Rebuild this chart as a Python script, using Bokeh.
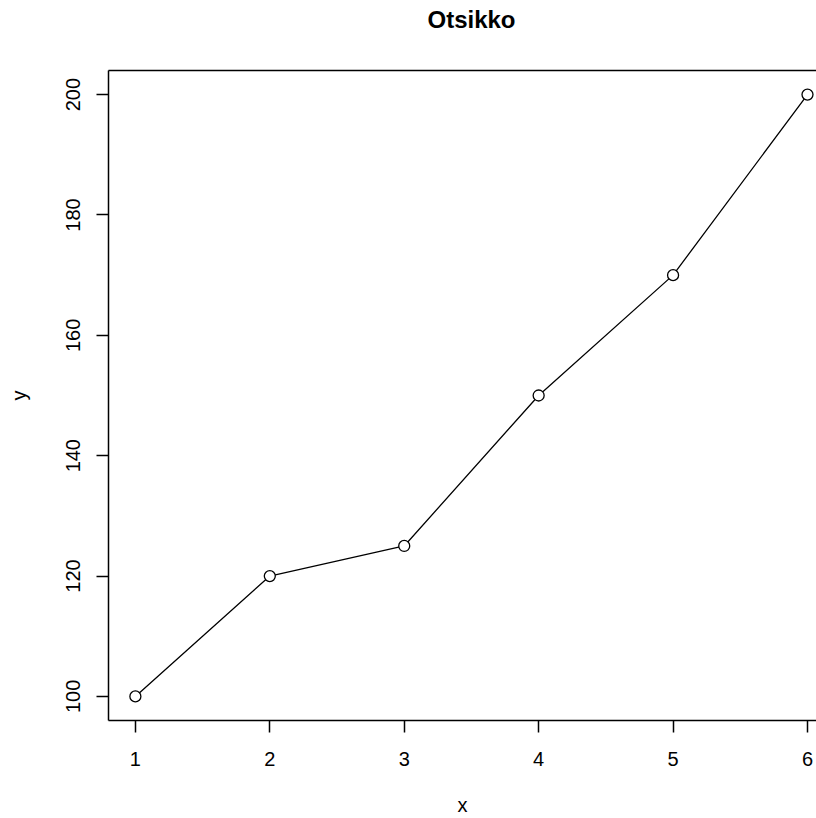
from bokeh.plotting import figure
from bokeh.models import Range1d, FixedTicker, Title, LinearAxis
from bokeh.embed import file_html
from bokeh.resources import INLINE

x_vals = [1, 2, 3, 4, 5, 6]
y_vals = [100, 120, 125, 150, 170, 200]
x_ticks = [1, 2, 3, 4, 5, 6]
y_ticks = [100, 120, 140, 160, 180, 200]
title_text = "Otsikko"
x_label = "x"
y_label = "y"

FONT = "Liberation Sans"

p = figure(width=816, height=818, output_backend="svg", toolbar_location=None,
           x_range=Range1d(0.8, 6.067), y_range=Range1d(96, 204),
           min_border_left=108, min_border_right=0, min_border_top=70, min_border_bottom=98)
p.background_fill_color = "white"
p.border_fill_color = "white"
p.outline_line_color = None
p.grid.visible = False

bx = p.below[0]
ly = p.left[0]

for ax in (bx, ly):
    ax.axis_line_color = "black"
    ax.axis_line_width = 1.5
    ax.major_tick_line_color = "black"
    ax.major_tick_line_width = 1.5
    ax.major_tick_out = 12
    ax.major_tick_in = 0
    ax.minor_tick_line_color = None
    ax.major_label_text_font = FONT
    ax.major_label_text_font_size = "20px"
    ax.major_label_text_color = "black"
    ax.axis_label_text_font = FONT
    ax.axis_label_text_font_size = "20px"
    ax.axis_label_text_font_style = "normal"
    ax.axis_label_text_color = "black"

bx.ticker = FixedTicker(ticks=x_ticks)
ly.ticker = FixedTicker(ticks=y_ticks)
bx.axis_label = x_label
ly.axis_label = y_label
bx.major_label_standoff = 19
bx.axis_label_standoff = 25
ly.major_label_standoff = 16
ly.axis_label_standoff = 34
ly.major_label_orientation = "vertical"

# top edge of the box (no ticks, no labels)
top_axis = LinearAxis(ticker=FixedTicker(ticks=[]), axis_line_color="black", axis_line_width=1.5,
                      major_tick_out=0, major_tick_in=0, minor_tick_out=0, minor_tick_in=0,
                      major_tick_line_color=None, minor_tick_line_color=None,
                      major_label_standoff=0, major_label_text_font_size="0px")
p.add_layout(top_axis, "above")

spacer = Title(text=" ", text_font_size="1px", standoff=35)
p.add_layout(spacer, "above")

t = Title(text=title_text, align="left", offset=319, text_font=FONT, text_font_size="24px",
          text_font_style="bold", text_color="black", standoff=0)
p.add_layout(t, "above")

p.line(x_vals, y_vals, line_color="black", line_width=1.3)
p.scatter(x_vals, y_vals, marker="circle", size=11, fill_color="white",
          line_color="black", line_width=1.3)

open("out.html", "w").write(file_html(p, INLINE))
